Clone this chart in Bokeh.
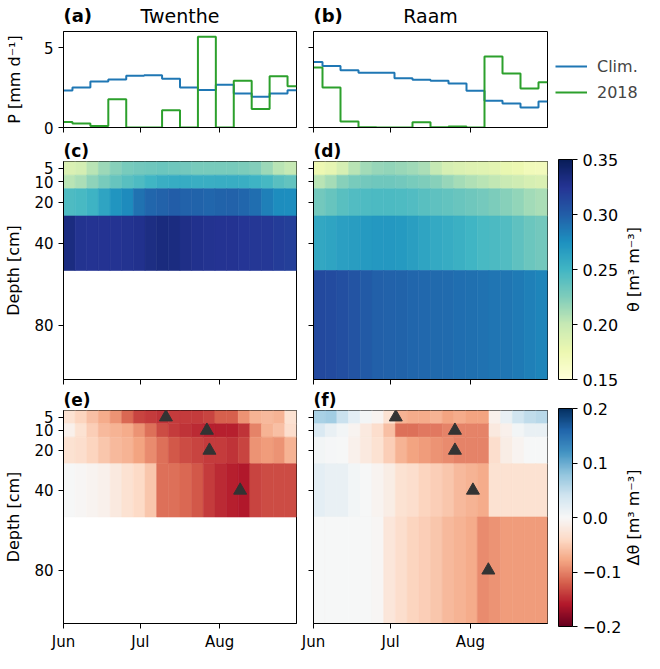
import numpy as np
from bokeh.plotting import figure
from bokeh.layouts import column, row
from bokeh.models import (Range1d, FixedTicker, LinearColorMapper, ColumnDataSource,
                          Label, Legend, LegendItem, ColorBar, Title)
from bokeh.transform import transform
from bokeh.embed import file_html
from bokeh.resources import INLINE

FONT = "DejaVu Sans"

# ------------------------------------------------------------------ data
month_labels = ["Jun", "Jul", "Aug"]
month_start_day = [0, 30, 61]          # days since 1 June 2018
n_days = 91

# weekly precipitation (mm/d), centred steps
precip_day = [0, 7, 14, 21, 28, 35, 42, 49, 56, 63, 70, 77, 84, 91]
p_twenthe_clim = [2.31, 2.50, 2.88, 3.00, 3.23, 3.27, 3.04, 2.50, 2.35, 2.67, 2.12, 1.92, 2.12, 2.33]
p_twenthe_2018 = [0.35, 0.25, 0.10, 1.77, 0.00, 0.00, 1.08, 0.00, 5.67, 0.00, 2.92, 1.15, 3.20, 2.58]
p_raam_clim = [4.10, 3.85, 3.58, 3.42, 3.42, 3.08, 2.98, 2.92, 2.75, 2.29, 1.67, 1.50, 1.25, 1.63]
p_raam_2018 = [3.75, 2.50, 0.38, 0.02, 0.00, 0.00, 0.33, 0.02, 0.06, 0.00, 4.44, 3.38, 2.44, 2.83]

depths_cm = [5, 10, 20, 40, 80]
depth_tick_labels = ["5", "10", "20", "40", "80"]

# soil moisture theta (m3/m3), 20 blocks over Jun-Aug
theta_twenthe_5 = [0.188, 0.192, 0.205, 0.215, 0.222, 0.228, 0.230, 0.232, 0.233, 0.232,
                   0.230, 0.228, 0.228, 0.228, 0.228, 0.226, 0.224, 0.215, 0.205, 0.200]
theta_twenthe_10 = [0.205, 0.210, 0.220, 0.228, 0.235, 0.240, 0.245, 0.250, 0.255, 0.257,
                    0.257, 0.255, 0.255, 0.256, 0.256, 0.255, 0.252, 0.248, 0.240, 0.236]
theta_twenthe_20 = [0.245, 0.247, 0.252, 0.262, 0.272, 0.278, 0.290, 0.296, 0.298, 0.300,
                    0.298, 0.297, 0.296, 0.297, 0.298, 0.296, 0.292, 0.283, 0.277, 0.276]
theta_twenthe_40 = [0.333, 0.326, 0.325, 0.325, 0.325, 0.326, 0.328, 0.332, 0.334, 0.333,
                    0.330, 0.328, 0.326, 0.325, 0.325, 0.324, 0.323, 0.322, 0.320, 0.318]

theta_raam_5 = [0.175, 0.180, 0.190, 0.205, 0.213, 0.217, 0.218, 0.216, 0.214, 0.210,
                0.200, 0.190, 0.187, 0.185, 0.184, 0.182, 0.178, 0.175, 0.170, 0.168]
theta_raam_10 = [0.205, 0.212, 0.222, 0.228, 0.230, 0.232, 0.232, 0.230, 0.228, 0.225,
                 0.222, 0.217, 0.212, 0.208, 0.205, 0.202, 0.198, 0.195, 0.190, 0.188]
theta_raam_20 = [0.230, 0.235, 0.240, 0.243, 0.245, 0.246, 0.246, 0.245, 0.243, 0.240,
                 0.238, 0.236, 0.234, 0.232, 0.229, 0.226, 0.222, 0.218, 0.213, 0.210]
theta_raam_40 = [0.260, 0.262, 0.265, 0.267, 0.269, 0.270, 0.270, 0.269, 0.266, 0.262,
                 0.259, 0.257, 0.254, 0.250, 0.247, 0.246, 0.243, 0.238, 0.233, 0.230]
theta_raam_80 = [0.312, 0.311, 0.309, 0.306, 0.302, 0.299, 0.298, 0.297, 0.296, 0.295,
                 0.294, 0.293, 0.292, 0.291, 0.290, 0.289, 0.288, 0.286, 0.283, 0.281]

# soil moisture anomaly delta theta (m3/m3)
dtheta_twenthe_5 = [-0.030, -0.045, -0.060, -0.075, -0.090, -0.115, -0.135, -0.140, -0.145, -0.140,
                    -0.140, -0.140, -0.135, -0.120, -0.120, -0.090, -0.070, -0.065, -0.070, -0.030]
dtheta_twenthe_10 = [-0.010, -0.030, -0.050, -0.065, -0.070, -0.075, -0.090, -0.110, -0.130, -0.140,
                     -0.145, -0.150, -0.155, -0.155, -0.155, -0.145, -0.100, -0.070, -0.060, -0.035]
dtheta_twenthe_20 = [-0.030, -0.035, -0.045, -0.055, -0.065, -0.070, -0.080, -0.095, -0.110, -0.125,
                     -0.130, -0.135, -0.140, -0.140, -0.145, -0.135, -0.090, -0.085, -0.090, -0.070]
dtheta_twenthe_40 = [0.000, -0.002, -0.005, -0.010, -0.020, -0.030, -0.040, -0.055, -0.110, -0.110,
                     -0.115, -0.125, -0.140, -0.150, -0.155, -0.160, -0.135, -0.130, -0.130, -0.130]

dtheta_raam_5 = [0.065, 0.070, 0.045, 0.020, 0.005, -0.005, -0.030, -0.070, -0.075, -0.075,
                 -0.070, -0.080, -0.075, -0.080, -0.080, -0.010, 0.015, 0.040, 0.050, 0.055]
dtheta_raam_10 = [0.030, 0.015, 0.005, -0.005, -0.020, -0.035, -0.060, -0.110, -0.110, -0.105,
                  -0.105, -0.100, -0.100, -0.100, -0.100, -0.020, -0.010, 0.005, 0.015, 0.015]
dtheta_raam_20 = [0.005, 0.003, 0.000, -0.010, -0.020, -0.030, -0.050, -0.070, -0.080, -0.085,
                  -0.090, -0.095, -0.100, -0.100, -0.100, -0.035, -0.015, -0.005, 0.000, 0.000]
dtheta_raam_40 = [0.020, 0.015, 0.015, 0.005, 0.000, -0.005, -0.015, -0.030, -0.035, -0.045,
                  -0.050, -0.055, -0.065, -0.070, -0.075, -0.030, -0.030, -0.030, -0.030, -0.030]
dtheta_raam_80 = [0.000, 0.000, 0.000, 0.000, 0.000, -0.003, -0.025, -0.035, -0.045, -0.050,
                  -0.055, -0.065, -0.070, -0.075, -0.095, -0.090, -0.085, -0.085, -0.085, -0.085]

# triangles: (day since 1 June, sensor depth)
drop_day_twenthe = [40, 56, 57, 69]
drop_depth_twenthe = [5, 10, 20, 40]
drop_day_raam = [32, 55, 55, 62, 68]
drop_depth_raam = [5, 10, 20, 40, 80]

site_names = ["Twenthe", "Raam"]
panel_letters = ["(a)", "(b)", "(c)", "(d)", "(e)", "(f)"]
series_labels = ["Clim.", "2018"]

# ------------------------------------------------------------------ colours
YLGNBU = ['#ffffd9', '#edf8b1', '#c7e9b4', '#7fcdbb', '#41b6c4', '#1d91c0', '#225ea8', '#253494', '#081d58']
RDBU = ['#67001f', '#b2182b', '#d6604d', '#f4a582', '#fddbc7', '#f7f7f7', '#d1e5f0', '#92c5de',
        '#4393c3', '#2166ac', '#053061']
BLUE, GREEN = "#1f77b4", "#2ca02c"


def interp(hexes, n=256):
    rgb = np.array([[int(h[i:i + 2], 16) for i in (1, 3, 5)] for h in hexes], float)
    t = np.linspace(0, 1, len(hexes))
    tt = np.linspace(0, 1, n)
    out = np.stack([np.interp(tt, t, rgb[:, k]) for k in range(3)], 1)
    return ["#%02x%02x%02x" % tuple(int(round(v)) for v in c) for c in out]


theta_mapper = LinearColorMapper(palette=interp(YLGNBU), low=0.15, high=0.35)
dtheta_mapper = LinearColorMapper(palette=interp(RDBU), low=-0.2, high=0.2)

# depth layer geometry
layer_bottom = [d * 4.0 / 3.0 for d in depths_cm]
layer_top = [0.0] + layer_bottom[:-1]
layer_center = [(a + b) / 2.0 for a, b in zip(layer_top, layer_bottom)]
depth_to_center = dict(zip(depths_cm, layer_center))
y_max = layer_bottom[-1]

# ------------------------------------------------------------------ layout geometry (px)
TOTAL_H = 653
STRIP_H = 29
LEFT_W = 551
RIGHT_W = 93
COL_W = {1: 300, 2: 251}
COL_B = {1: (63, 4), 2: (13, 4)}
FRAME_LEFT = {1: 63, 2: 313}
FRAME_W = {1: 233, 2: 234}
ROW_B = {1: (2, 10), 2: (22, 7), 3: (22, 27)}
FRAME_H = {1: 96, 2: 220, 3: 218}
ROW_TOP = {}
_y = STRIP_H
for _r in (1, 2, 3):
    ROW_TOP[_r] = _y + ROW_B[_r][0]
    _y += ROW_B[_r][0] + FRAME_H[_r] + ROW_B[_r][1]


def style_axis(ax, size="15px"):
    ax.axis_line_color = "black"
    ax.major_tick_line_color = "black"
    ax.major_tick_out = 5
    ax.major_tick_in = 0
    ax.minor_tick_line_color = None
    ax.major_label_text_font = FONT
    ax.major_label_text_font_size = size
    ax.major_label_text_color = "black"
    ax.axis_label_text_font = FONT
    ax.axis_label_text_font_size = "16px"
    ax.axis_label_text_font_style = "normal"
    ax.axis_label_text_color = "black"


def base_fig(r, c, y_range):
    bl, br = COL_B[c]
    bt, bb = ROW_B[r]
    p = figure(width=COL_W[c], height=bt + FRAME_H[r] + bb, x_range=Range1d(0, n_days), y_range=y_range,
               output_backend="svg", toolbar_location=None, min_border_left=bl, min_border_right=br,
               min_border_top=bt, min_border_bottom=bb)
    p.grid.visible = False
    p.outline_line_color = "black"
    p.outline_line_width = 1
    for ax in list(p.xaxis) + list(p.yaxis):
        style_axis(ax)
    p.xaxis.ticker = FixedTicker(ticks=month_start_day)
    p.xaxis.major_label_overrides = {d: m for d, m in zip(month_start_day, month_labels)}
    if r == 3:
        p.xaxis.major_label_standoff = 4
    else:
        p.xaxis.major_label_text_color = None
        p.xaxis.major_label_standoff = 0
    if c == 2:
        p.yaxis.major_label_text_color = None
        p.yaxis.major_label_standoff = 0
    else:
        p.yaxis.major_label_standoff = 5
    return p


def precip_fig(c, clim, obs):
    p = base_fig(1, c, Range1d(0, 6))
    p.step(x=precip_day, y=clim, mode="center", line_color=BLUE, line_width=2)
    p.step(x=precip_day, y=obs, mode="center", line_color=GREEN, line_width=2)
    p.yaxis.ticker = FixedTicker(ticks=[0, 5])
    if c == 1:
        p.yaxis.axis_label = "P [mm d\u207b\u00b9]"
        p.yaxis.axis_label_standoff = 17
    return p


def heat_fig(r, c, layers, mapper, letter, drops=None):
    p = base_fig(r, c, Range1d(y_max, 0))
    p.add_layout(Title(text=letter, align="left", text_font=FONT, text_font_size="17px",
                       text_font_style="bold", text_color="black", standoff=2), "above")
    xs, ys, ws, hs, vs = [], [], [], [], []
    for depth, arr in layers:
        i = depths_cm.index(depth)
        blk = n_days / len(arr)
        for j, v in enumerate(arr):
            xs.append((j + 0.5) * blk)
            ws.append(blk)
            ys.append(layer_center[i])
            hs.append(layer_bottom[i] - layer_top[i])
            vs.append(v)
    src = ColumnDataSource(dict(x=xs, y=ys, w=ws, h=hs, v=vs))
    p.rect(x="x", y="y", width="w", height="h", source=src,
           fill_color=transform("v", mapper), line_color=transform("v", mapper), line_width=0.6)
    if drops is not None:
        dd, dz = drops
        p.scatter(x=dd, y=[depth_to_center[z] for z in dz], marker="triangle", size=13,
                  fill_color="#333333", line_color="#333333")
    p.yaxis.ticker = FixedTicker(ticks=layer_center)
    p.yaxis.major_label_overrides = {yc: lab for yc, lab in zip(layer_center, depth_tick_labels)}
    if c == 1:
        p.yaxis.axis_label = "Depth [cm]"
        p.yaxis.axis_label_standoff = 8
    return p


# ------------------------------------------------------------------ panels
fa = precip_fig(1, p_twenthe_clim, p_twenthe_2018)
fb = precip_fig(2, p_raam_clim, p_raam_2018)

fc = heat_fig(2, 1, [(5, theta_twenthe_5), (10, theta_twenthe_10), (20, theta_twenthe_20),
                     (40, theta_twenthe_40)], theta_mapper, panel_letters[2])
fd = heat_fig(2, 2, [(5, theta_raam_5), (10, theta_raam_10), (20, theta_raam_20),
                     (40, theta_raam_40), (80, theta_raam_80)], theta_mapper, panel_letters[3])

fe = heat_fig(3, 1, [(5, dtheta_twenthe_5), (10, dtheta_twenthe_10), (20, dtheta_twenthe_20),
                     (40, dtheta_twenthe_40)], dtheta_mapper, panel_letters[4],
              drops=(drop_day_twenthe, drop_depth_twenthe))
ff = heat_fig(3, 2, [(5, dtheta_raam_5), (10, dtheta_raam_10), (20, dtheta_raam_20),
                     (40, dtheta_raam_40), (80, dtheta_raam_80)], dtheta_mapper, panel_letters[5],
              drops=(drop_day_raam, drop_depth_raam))

# title strip above the precipitation panels
s1 = figure(width=LEFT_W, height=STRIP_H, x_range=Range1d(0, LEFT_W), y_range=Range1d(STRIP_H, 0),
            x_axis_type=None, y_axis_type=None, output_backend="svg", toolbar_location=None, min_border=0)
s1.outline_line_color = None
s1.grid.visible = False
MID = 15
for c, letter, site in [(1, panel_letters[0], site_names[0]), (2, panel_letters[1], site_names[1])]:
    s1.add_layout(Label(x=FRAME_LEFT[c], y=MID, text=letter, text_font=FONT, text_font_size="18px",
                        text_font_style="bold", text_baseline="middle", text_color="black"))
    s1.add_layout(Label(x=FRAME_LEFT[c] + FRAME_W[c] / 2, y=MID, text=site, text_font=FONT,
                        text_font_size="19px", text_align="center", text_baseline="middle",
                        text_color="black"))

# right column: legend + colour bars
fr = figure(width=RIGHT_W, height=TOTAL_H, x_range=Range1d(0, RIGHT_W), y_range=Range1d(TOTAL_H, 0),
            x_axis_type=None, y_axis_type=None, output_backend="svg", toolbar_location=None, min_border=0)
fr.outline_line_color = None
fr.grid.visible = False
r1 = fr.line(x=[np.nan], y=[np.nan], line_color=BLUE, line_width=2)
r2 = fr.line(x=[np.nan], y=[np.nan], line_color=GREEN, line_width=2)
LEG_TOP = 56
leg = Legend(items=[LegendItem(label=series_labels[0], renderers=[r1]),
                    LegendItem(label=series_labels[1], renderers=[r2])],
             location=(4, TOTAL_H - LEG_TOP - 46), padding=0, margin=0, spacing=6, glyph_width=32,
             glyph_height=20, label_standoff=10, label_height=20, label_text_font=FONT,
             label_text_font_size="16px", border_line_color=None, background_fill_alpha=0)
fr.add_layout(leg)

CB_X = 7
CB_W = 14


def add_colorbar(p, mapper, r, ticks, labels, title):
    top = ROW_TOP[r]
    h = FRAME_H[r]
    cb = ColorBar(color_mapper=mapper, location=(CB_X, TOTAL_H - top - h), width=CB_W, height=h,
                  padding=0, margin=0, ticker=FixedTicker(ticks=ticks),
                  major_label_overrides={t: l for t, l in zip(ticks, labels)},
                  major_tick_out=5, major_tick_in=0, major_tick_line_color="black",
                  minor_tick_line_color=None, bar_line_color="black", label_standoff=5,
                  major_label_text_font=FONT, major_label_text_font_size="16px",
                  major_label_text_color="black", background_fill_alpha=0, border_line_color=None)
    p.add_layout(cb)
    p.add_layout(Label(x=82, y=top + h / 2, text=title, angle=np.pi / 2, text_align="center",
                       text_baseline="middle", text_font=FONT, text_font_size="16px",
                       text_color="black"))


add_colorbar(fr, theta_mapper, 2, [0.15, 0.2, 0.25, 0.3, 0.35],
             ["0.15", "0.20", "0.25", "0.30", "0.35"], "\u03b8 [m\u00b3 m\u207b\u00b3]")
add_colorbar(fr, dtheta_mapper, 3, [-0.2, -0.1, 0.0, 0.1, 0.2],
             ["\u22120.2", "\u22120.1", "0.0", "0.1", "0.2"], "\u0394\u03b8 [m\u00b3 m\u207b\u00b3]")

left = column(s1, row(fa, fb), row(fc, fd), row(fe, ff))
layout = row(left, fr)

open("out.html", "w").write(file_html(layout, INLINE))
